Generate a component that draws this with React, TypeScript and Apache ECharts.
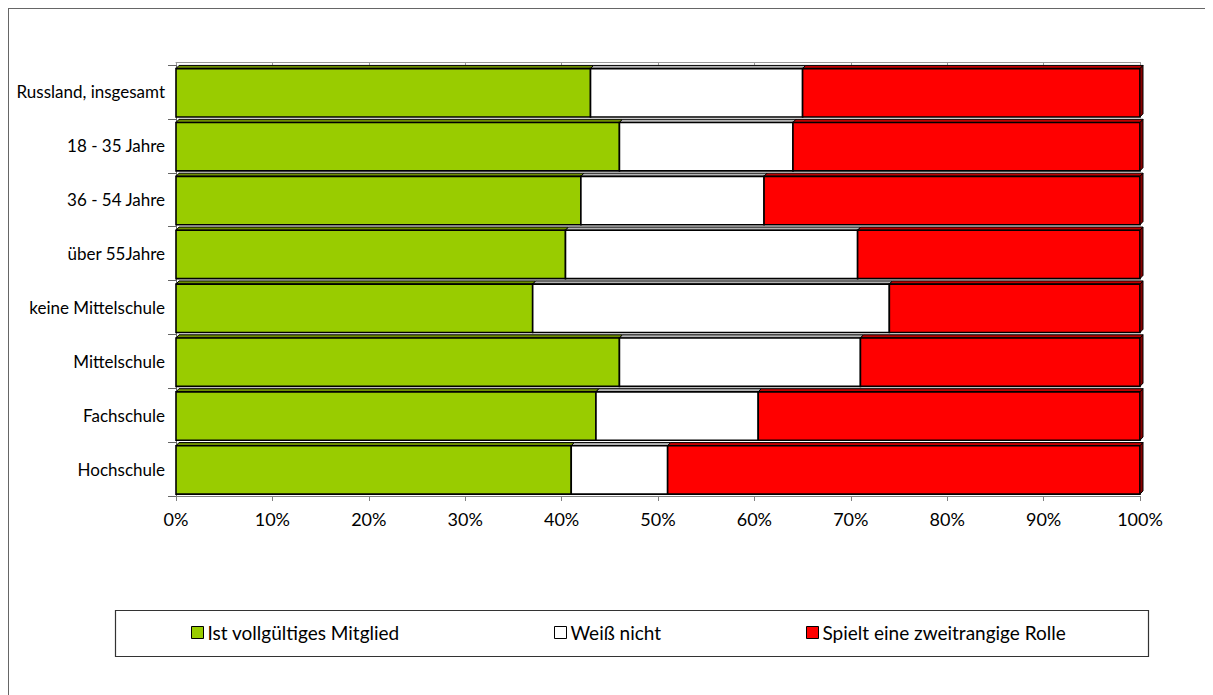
import React, { useEffect, useRef } from "react";
import * as echarts from "echarts";

const categories = [
  "Russland, insgesamt",
  "18 - 35 Jahre",
  "36 - 54 Jahre",
  "über 55Jahre",
  "keine Mittelschule",
  "Mittelschule",
  "Fachschule",
  "Hochschule",
];
const vollgueltig = [43, 46, 42, 40, 37, 46, 44, 41];
const weissNicht = [22, 18, 19, 30, 37, 25, 17, 10];
const zweitrangig = [35, 36, 39, 29, 26, 29, 40, 49];
const seriesNames = ["Ist vollgültiges Mitglied", "Weiß nicht", "Spielt eine zweitrangige Rolle"];

const FONT = "Lato";

export default function App() {
  const ref = useRef<HTMLDivElement>(null);
  useEffect(() => {
    if (!ref.current) return;
    document.body.style.overflow = "hidden";
    document.documentElement.style.overflow = "hidden";
    const chart = echarts.init(ref.current, null, { renderer: "svg" });
    const raw = [vollgueltig, weissNicht, zweitrangig];
    const fills = ["#99CC00", "#FFFFFF", "#FF0000"];
    const tops = ["#6E8F00", "#B4B4B4", "#C00000"];
    const totals = categories.map((_, i) => raw.reduce((a, s) => a + s[i], 0));
    const seriesData = raw.map((arr, si) =>
      arr.map((v, i) => {
        let start = 0;
        for (let k = 0; k < si; k++) start += raw[k][i];
        const s = (start / totals[i]) * 100;
        const e = ((start + v) / totals[i]) * 100;
        return [i, s, e];
      })
    );
    const makeRender = (si: number) => (params: any, api: any) => {
      const cat = api.value(0);
      const s = api.value(1);
      const e = api.value(2);
      const p0 = api.coord([s, cat]);
      const p1 = api.coord([e, cat]);
      const band = api.size([0, 1])[1];
      const bandTop = p0[1] - band / 2;
      const faceTop = bandTop + band * 0.008;
      const frontTop = bandTop + band * 0.068;
      const frontBottom = bandTop + band * 0.965;
      const dy = frontTop - faceTop;
      const dx = 3;
      const x0 = p0[0];
      const x1 = p1[0];
      const children: any[] = [
        {
          type: "polygon",
          shape: {
            points: [
              [x0, frontTop],
              [x0 + dx, frontTop - dy],
              [x1 + dx, frontTop - dy],
              [x1, frontTop],
            ],
          },
          style: { fill: tops[si], stroke: "#000", lineWidth: 1 },
        },
        {
          type: "rect",
          shape: { x: x0, y: frontTop, width: x1 - x0, height: frontBottom - frontTop },
          style: { fill: fills[si], stroke: "#000", lineWidth: 1.6 },
        },
      ];
      if (si === 2) {
        children.push({
          type: "polygon",
          shape: {
            points: [
              [x1, frontTop],
              [x1 + dx, frontTop - dy],
              [x1 + dx, frontBottom - dy],
              [x1, frontBottom],
            ],
          },
          style: { fill: "#8A0000", stroke: "#000", lineWidth: 1 },
        });
      }
      return { type: "group", children };
    };

    const legendLefts = [182, 545, 797];

    const option: any = {
      animation: false,
      textStyle: { fontFamily: FONT },
      grid: { left: 167, right: 73, top: 56, bottom: 199, containLabel: false },
      xAxis: [
        {
          type: "value",
          min: 0,
          max: 100,
          interval: 10,
          position: "bottom",
          axisLine: { show: true, lineStyle: { color: "#808080", width: 1 } },
          axisTick: { show: true, length: 5, lineStyle: { color: "#808080" } },
          axisLabel: {
            formatter: (v: number) => v + "%",
            color: "#000",
            fontSize: 18,
            fontFamily: FONT,
            margin: 14,
          },
          splitLine: { show: false },
        },
        {
          type: "value",
          min: 0,
          max: 100,
          interval: 10,
          position: "top",
          offset: 3,
          axisLine: { show: true, lineStyle: { color: "#999", width: 1 } },
          axisTick: { show: true, inside: true, length: 3, lineStyle: { color: "#999" } },
          axisLabel: { show: false },
          splitLine: { show: false },
        },
      ],
      yAxis: {
        type: "category",
        data: categories,
        inverse: true,
        axisLine: { show: true, lineStyle: { color: "#666" } },
        axisTick: { show: true, length: 8, lineStyle: { color: "#666" } },
        axisLabel: {
          color: "#000",
          fontSize: 17,
          fontFamily: FONT,
          margin: 11,
          padding: [5, 0, 0, 0],
        },
      },
      legend: seriesNames.map((name, i) => ({
        data: [name],
        left: legendLefts[i],
        top: 614,
        padding: 0,
        itemWidth: 12,
        itemHeight: 12,
        itemGap: 5,
        icon: "rect",
        selectedMode: false,
        itemStyle: { borderColor: "#000", borderWidth: 1 },
        textStyle: { color: "#000", fontSize: 19, fontFamily: FONT, padding: [0, 0, 0, -1] },
      })),
      graphic: [
        {
          type: "rect",
          shape: { x: 106.5, y: 601.5, width: 1033, height: 46 },
          style: { fill: "none", stroke: "#333", lineWidth: 1.2 },
        },
      ],
      series: seriesNames.map((name, si) => ({
        type: "custom",
        name,
        data: seriesData[si],
        encode: { x: [1, 2], y: 0 },
        clip: false,
        itemStyle: { color: fills[si], borderColor: "#000", borderWidth: 1 },
        renderItem: makeRender(si),
      })),
    };
    chart.setOption(option);
    return () => chart.dispose();
  }, []);
  return (
    <div
      style={{
        width: 1230,
        height: 700,
        boxSizing: "border-box",
        borderTop: "1px solid #666",
        borderLeft: "1px solid #666",
        overflow: "hidden",
      }}
    >
      <div ref={ref} style={{ width: 1204, height: 686 }} />
    </div>
  );
}
